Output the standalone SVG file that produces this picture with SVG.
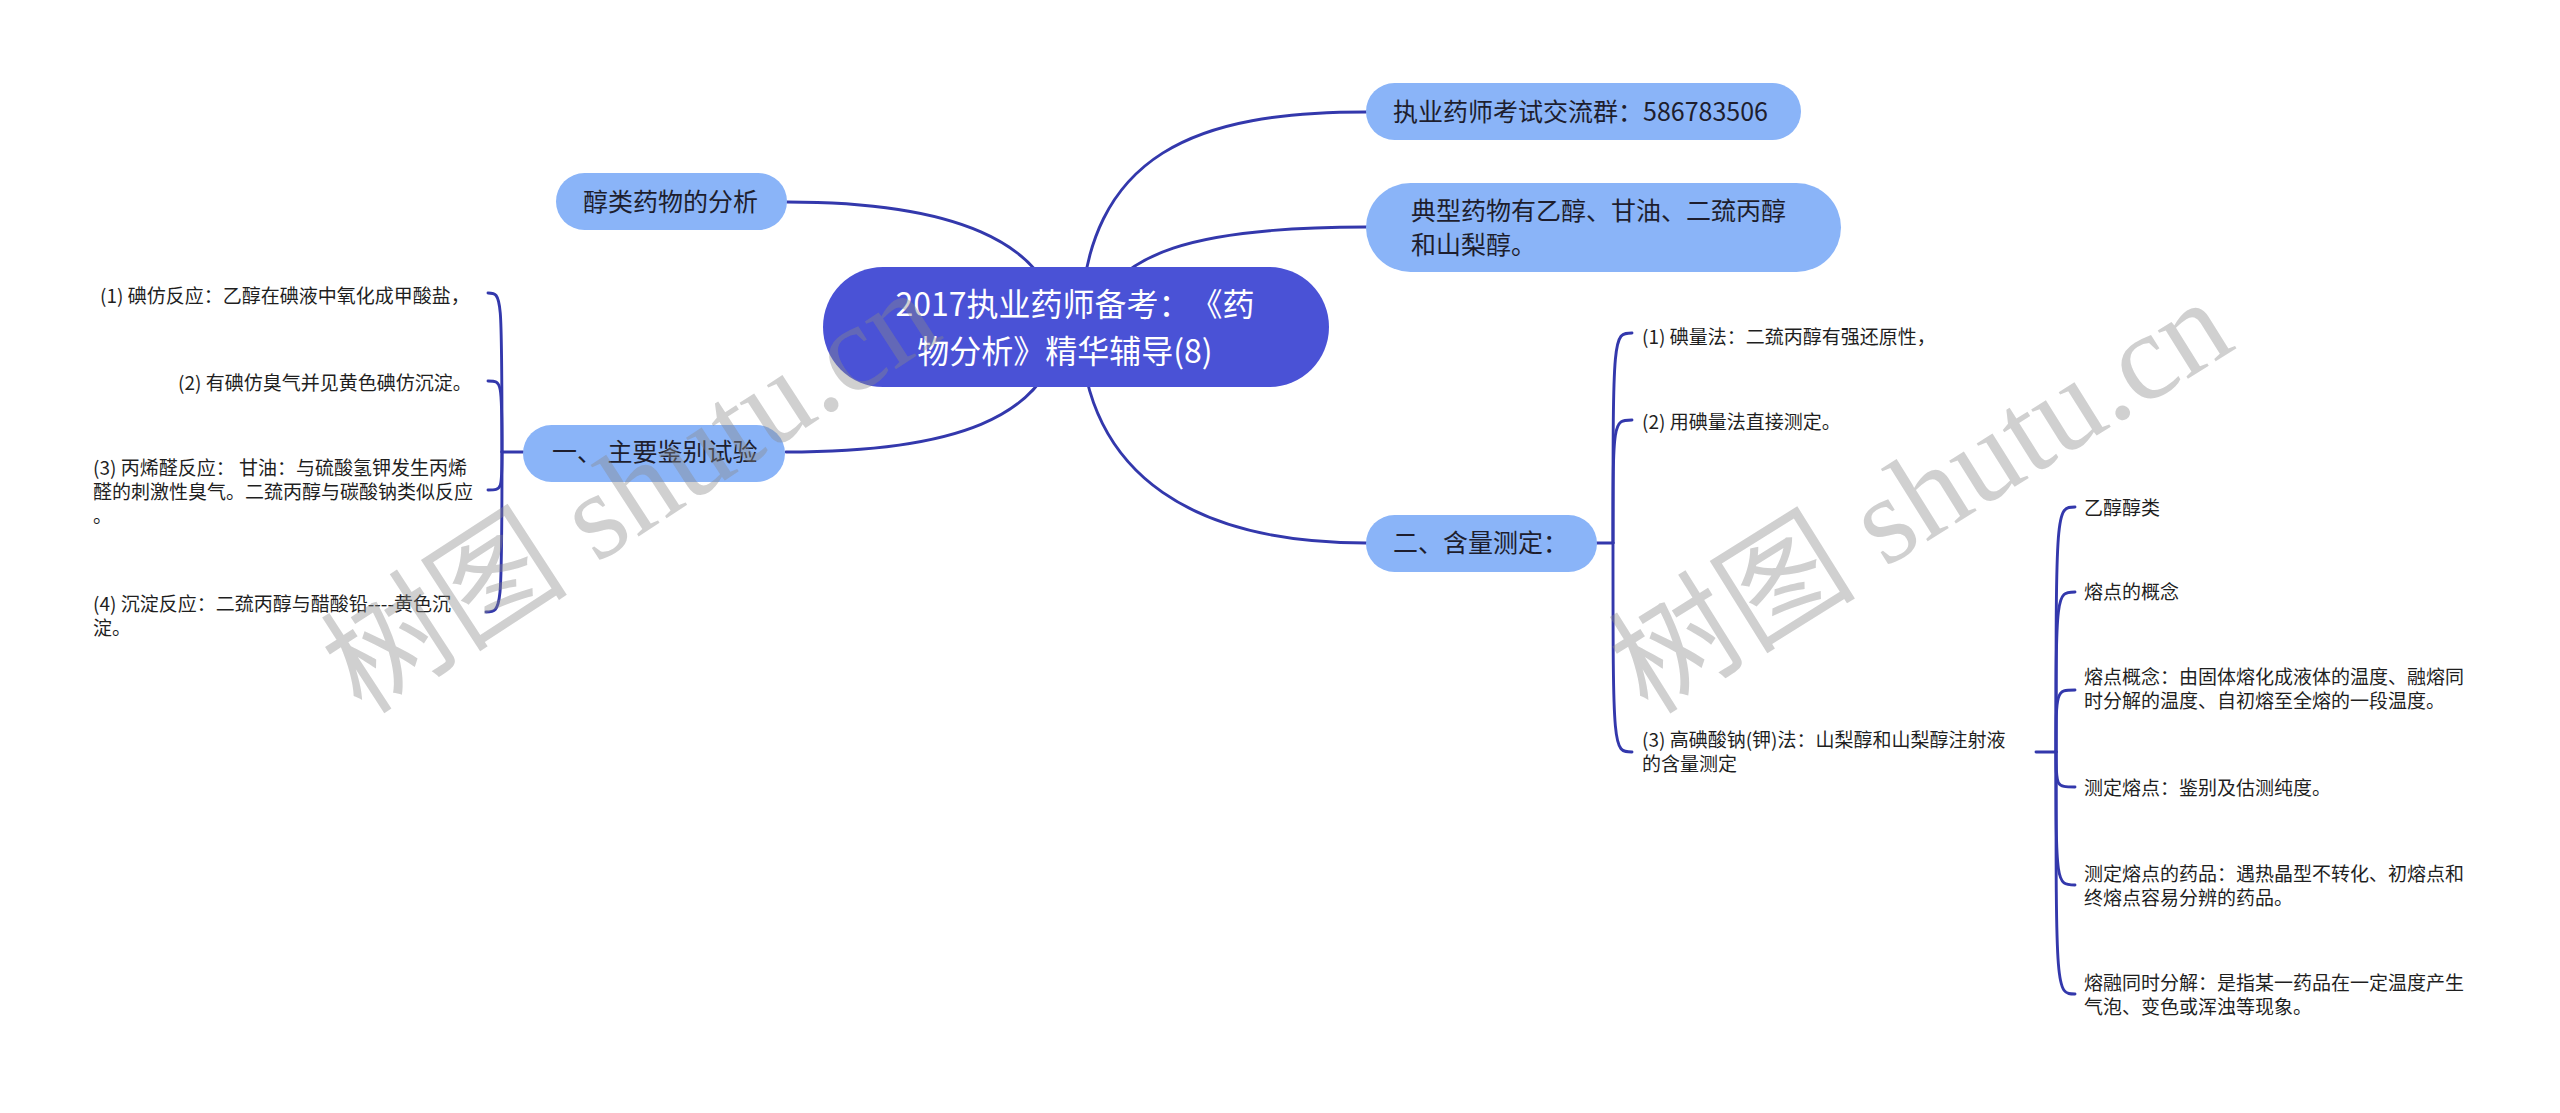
<svg xmlns="http://www.w3.org/2000/svg" width="2560" height="1113" viewBox="0 0 2560 1113">
<style>
.bg{fill:#ffffff}
text{text-spacing-trim:space-all}
.edge{fill:none;stroke:#3338ac;stroke-width:2.9;stroke-linecap:round}
.root rect{fill:#4a52d6}
.root text{fill:#ffffff;font-family:"Noto Sans CJK SC","Noto Sans",sans-serif;font-size:32px}
.main rect{fill:#8ab4f8}
.main text{fill:#1e1e2e;font-family:"Noto Sans CJK SC","Noto Sans",sans-serif;font-size:25px}
.leaf text{fill:#1f1f1f;font-family:"Noto Sans CJK SC","Noto Sans",sans-serif;font-size:19px}
.wm{fill:#8a8a8a;fill-opacity:0.4;font-family:"Liberation Serif","Noto Sans CJK SC",serif;font-size:124px}
</style>
<rect class="bg" x="0" y="0" width="2560" height="1113"/>

<g id="connectors">
  <!-- root to main nodes -->
  <path class="edge" d="M1080 327 C1085 150 1200 112 1366 112"/>
  <path class="edge" d="M1090 327 C1110 250 1200 227 1366 227"/>
  <path class="edge" d="M1060 327 C1050 240 950 202 787 202"/>
  <path class="edge" d="M1062 327 C1050 420 950 452 786 452"/>
  <path class="edge" d="M1080 327 C1085 480 1200 543 1366 543"/>
  <!-- left bracket -->
  <path class="edge" d="M523 452 L502 452"/>
  <path class="edge" d="M502 452 C502 293 502 293 488 293"/>
  <path class="edge" d="M502 452 C502 381 502 381 488 381"/>
  <path class="edge" d="M502 452 C502 490 502 490 488 490"/>
  <path class="edge" d="M502 452 C502 612 502 612 486 612"/>
  <!-- right bracket level 2 -->
  <path class="edge" d="M1597 543 L1613 543"/>
  <path class="edge" d="M1613 543 C1613 333 1613 333 1632 333"/>
  <path class="edge" d="M1613 543 C1613 420 1613 420 1632 420"/>
  <path class="edge" d="M1613 543 C1613 752 1613 752 1632 752"/>
  <!-- right bracket level 3 -->
  <path class="edge" d="M2036 752 L2056 752"/>
  <path class="edge" d="M2056 752 C2056 507 2056 507 2075 507"/>
  <path class="edge" d="M2056 752 C2056 592 2056 592 2075 592"/>
  <path class="edge" d="M2056 752 C2056 690 2056 690 2075 690"/>
  <path class="edge" d="M2056 752 C2056 787 2056 787 2075 787"/>
  <path class="edge" d="M2056 752 C2056 885 2056 885 2075 885"/>
  <path class="edge" d="M2056 752 C2056 994 2056 994 2075 994"/>
</g>

<g id="root" class="root">
  <rect x="823" y="267" width="506" height="120" rx="60"/>
  <text x="1075" y="316" text-anchor="middle">2017执业药师备考：《药</text>
  <text x="1065" y="363" text-anchor="middle">物分析》精华辅导(8)</text>
</g>

<g id="n-group" class="main">
  <rect x="1366" y="83" width="435" height="57" rx="28.5"/>
  <text x="1393" y="121">执业药师考试交流群：586783506</text>
</g>

<g id="n-typical" class="main">
  <rect x="1366" y="183" width="475" height="89" rx="44.5"/>
  <text x="1411" y="220">典型药物有乙醇、甘油、二巯丙醇</text>
  <text x="1411" y="254">和山梨醇。</text>
</g>

<g id="n-alcohol" class="main">
  <rect x="556" y="173" width="231" height="57" rx="28.5"/>
  <text x="583" y="211">醇类药物的分析</text>
</g>

<g id="n-ident" class="main">
  <rect x="523" y="425" width="262" height="57" rx="28.5"/>
  <text x="552" y="461">一、 主要鉴别试验</text>
</g>

<g id="n-assay" class="main">
  <rect x="1366" y="515" width="231" height="57" rx="28.5"/>
  <text x="1393" y="552">二、含量测定：</text>
</g>

<g id="l1" class="leaf"><text x="100" y="303">(1) 碘仿反应：乙醇在碘液中氧化成甲酸盐，</text></g>
<g id="l2" class="leaf"><text x="178" y="390">(2) 有碘仿臭气并见黄色碘仿沉淀。</text></g>
<g id="l3" class="leaf">
  <text x="93" y="475">(3) 丙烯醛反应： 甘油：与硫酸氢钾发生丙烯</text>
  <text x="93" y="499">醛的刺激性臭气。二巯丙醇与碳酸钠类似反应</text>
  <text x="93" y="523">。</text>
</g>
<g id="l4" class="leaf">
  <text x="93" y="611">(4) 沉淀反应：二巯丙醇与醋酸铅----黄色沉</text>
  <text x="93" y="635">淀。</text>
</g>

<g id="r1" class="leaf"><text x="1642" y="344">(1) 碘量法：二巯丙醇有强还原性，</text></g>
<g id="r2" class="leaf"><text x="1642" y="429">(2) 用碘量法直接测定。</text></g>
<g id="r3" class="leaf">
  <text x="1642" y="747">(3) 高碘酸钠(钾)法：山梨醇和山梨醇注射液</text>
  <text x="1642" y="771">的含量测定</text>
</g>

<g id="s1" class="leaf"><text x="2084" y="515">乙醇醇类</text></g>
<g id="s2" class="leaf"><text x="2084" y="599">熔点的概念</text></g>
<g id="s3" class="leaf">
  <text x="2084" y="684">熔点概念：由固体熔化成液体的温度、融熔同</text>
  <text x="2084" y="708">时分解的温度、自初熔至全熔的一段温度。</text>
</g>
<g id="s4" class="leaf"><text x="2084" y="795">测定熔点：鉴别及估测纯度。</text></g>
<g id="s5" class="leaf">
  <text x="2084" y="881">测定熔点的药品：遇热晶型不转化、初熔点和</text>
  <text x="2084" y="905">终熔点容易分辨的药品。</text>
</g>
<g id="s6" class="leaf">
  <text x="2084" y="990">熔融同时分解：是指某一药品在一定温度产生</text>
  <text x="2084" y="1014">气泡、变色或浑浊等现象。</text>
</g>

<g id="watermark">
  <text class="wm" transform="translate(362 716) rotate(-33)">树图 shutu.cn</text>
  <text class="wm" transform="translate(1648 716) rotate(-32)">树图 shutu.cn</text>
</g>
</svg>
